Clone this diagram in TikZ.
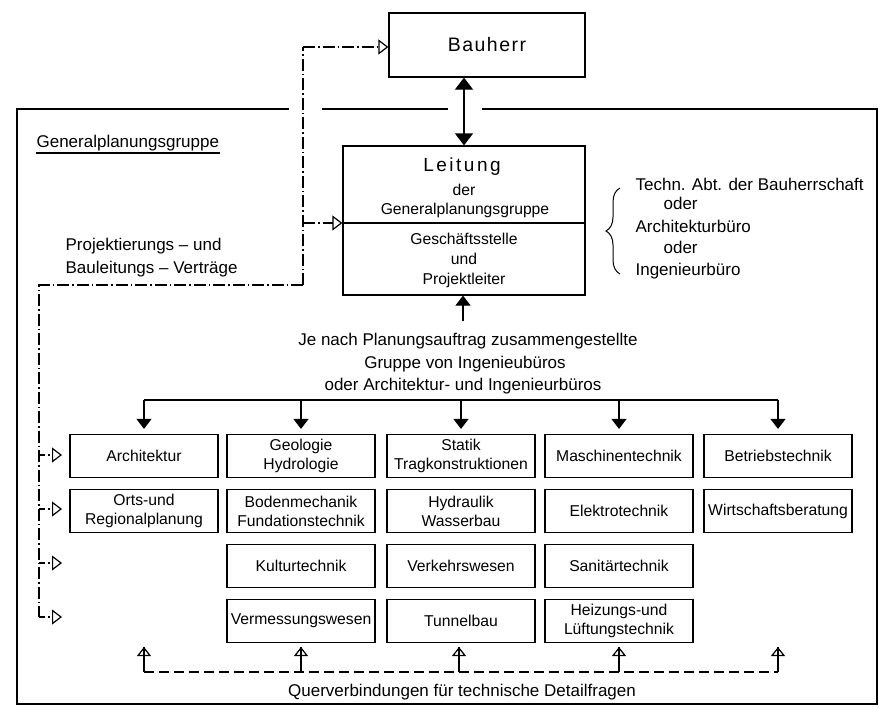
\documentclass[tikz,border=0pt]{standalone}
\usepackage{fontspec}
\setmainfont{Liberation Sans}
\usetikzlibrary{arrows.meta,decorations.pathreplacing}
\begin{document}
\begin{tikzpicture}[x=1pt,y=-1pt,line width=1.2pt,
  box/.style={draw,minimum width=148pt,minimum height=43pt,align=center,inner sep=0pt,font=\fontsize{15.7}{19}\selectfont},
  lbl/.style={inner sep=0pt,font=\fontsize{17}{20}\selectfont},
  sml/.style={inner sep=0pt,font=\fontsize{15.7}{19}\selectfont},
  dashdot/.style={dash pattern=on 12pt off 3pt on 1.5pt off 3pt},
  shortdd/.style={dash pattern=on 6pt off 3pt on 1.5pt off 2pt},
  otip/.style={-{Triangle[open,length=10pt,width=15pt]}},
  ftip/.style={-{Triangle[length=10pt,width=15pt]}},
  ftipb/.style={{Triangle[length=12pt,width=18pt]}-{Triangle[length=12pt,width=18pt]}},
  utip/.style={-{Triangle[open,length=9pt,width=14pt]}},
  qdash/.style={dash pattern=on 10pt off 5pt},
]
\fill[white] (0,0) rectangle (880,707);
\useasboundingbox (0,0) rectangle (880,707);

% frame of the Generalplanungsgruppe
\draw (289,109) -- (17,109) -- (17,704) -- (877,704) -- (877,109) -- (482,109);
\draw (322,109) -- (448,109);

% Bauherr
\node[draw,minimum width=196pt,minimum height=64pt,inner sep=0pt,font=\fontsize{19.5}{22}\selectfont] (bauherr) at (487,45)
  {B\kern1.5pt a\kern1.5pt u\kern1.5pt h\kern1.5pt e\kern1.5pt r\kern1.5pt r};

% Leitung
\node[draw,minimum width=242pt,minimum height=149pt,inner sep=0pt] (leit) at (464,220.5) {};
\coordinate (dv) at (0,223);
\draw (leit.west |- dv) -- (leit.east |- dv);
\node[inner sep=0pt,anchor=base,font=\fontsize{19}{22}\selectfont] (leitt) at (462,171)
  {L\kern2.5pt e\kern2.5pt i\kern2.5pt t\kern2.5pt u\kern2.5pt n\kern2.5pt g};
\node[sml,anchor=base] (der) at (464,195) {der};
\node[sml,anchor=base] (gpg) at (465,214) {Generalplanungsgruppe};
\node[sml,anchor=base] (gs) at (464,244) {Geschäftsstelle};
\node[sml,anchor=base] (und) at (464,264) {und};
\node[sml,anchor=base] (pl) at (464,284) {Projektleiter};

\draw[ftipb] (leit.north |- bauherr.south) -- (leit.north);

% brace and alternatives
\coordinate (bb) at (620,274);
\coordinate (bt) at (620,188);
\draw[line width=1pt,decorate,decoration={brace,amplitude=14pt}] (bb) -- (bt);
\node[lbl,anchor=base west] (al1) at (635,190) {Techn. Abt. der Bauherrschaft};
\node[lbl,anchor=base west] (al2) at (663,209) {oder};
\node[lbl,anchor=base west] (al3) at (635,232) {Architekturbüro};
\node[lbl,anchor=base west] (al4) at (663,253) {oder};
\node[lbl,anchor=base west] (al5) at (635,275) {Ingenieurbüro};

% left texts
\node[lbl,anchor=base west] (gp) at (36,147) {Generalplanungsgruppe};
\draw ([yshift=-6pt]gp.base west) -- ([yshift=-6pt]gp.base east);
\node[lbl,anchor=base west] (pj1) at (65,250) {Projektierungs – und};
\node[lbl,anchor=base west] (pj2) at (65,273) {Bauleitungs – Verträge};

% contracts (dash-dot)
\coordinate (dtop) at (303,47);
\coordinate (dmid) at (303,223);
\coordinate (dbot) at (303,285);
\coordinate (dleft) at (39,285);
\foreach \i/\y in {1/455,2/509,3/563,4/617}{
  \coordinate (l\i) at (39,\y);
  \coordinate (lt\i) at (62,\y);
}
\draw[dashdot] (dbot) -- (dtop);
\draw[dashdot,otip] (dtop) -- (dtop -| bauherr.west);
\draw[dashdot,otip] (dmid) -- (dmid -| leit.west);
\draw[dashdot] (dbot) -- (dleft) -- (l4);
\foreach \i in {1,2,3,4}{
  \draw[shortdd,otip] (l\i) -- (lt\i);
}

% middle texts
\coordinate (ja) at (463,321);
\draw[ftip] (ja) -- (ja |- leit.south);
\node[lbl,anchor=base] (je1) at (468,345) {Je nach Planungsauftrag zusammengestellte};
\node[lbl,anchor=base] (je2) at (465,368) {Gruppe von Ingenieubüros};
\node[lbl,anchor=base] (je3) at (463,390) {oder Architektur- und Ingenieurbüros};

% boxes
\node[box] (arch)   at (144,456) {Architektur};
\node[box] (geo)    at (301,456) {Geologie\\Hydrologie};
\node[box] (statik) at (461,456) {Statik\\Tragkonstruktionen};
\node[box] (masch)  at (619,456) {Maschinentechnik};
\node[box] (betr)   at (778,456) {Betriebstechnik};
\node[box] (orts)   at (144,511) {Orts-und\\Regionalplanung};
\node[box] (boden)  at (301,511) {Bodenmechanik\\Fundationstechnik};
\node[box] (hydr)   at (461,511) {Hydraulik\\Wasserbau};
\node[box] (elek)   at (619,511) {Elektrotechnik};
\node[box] (wirt)   at (778,511) {Wirtschaftsberatung};
\node[box] (kult)   at (301,566) {Kulturtechnik};
\node[box] (verk)   at (461,566) {Verkehrswesen};
\node[box] (sani)   at (619,566) {Sanitärtechnik};
\node[box] (verm)   at (301,621) {Vermessungswesen};
\node[box] (tunnel) at (461,621) {Tunnelbau};
\node[box] (heiz)   at (619,621) {Heizungs-und\\Lüftungstechnik};

% distribution
\coordinate (dl) at (144,400);
\coordinate (dr) at (778,400);
\draw (dl) -- (dr);
\foreach \b in {arch,geo,statik,masch,betr}{
  \draw[ftip,shorten >=5pt] (\b.north |- dl) -- (\b.north);
}

% cross connections
\foreach \i/\x in {1/144,2/301,3/459,4/619,5/778}{
  \coordinate (q\i) at (\x,672);
  \coordinate (u\i) at (\x,647);
  \draw (q\i) -- (u\i);
  \draw[utip] (q\i) -- (u\i);
}
\draw[qdash] (q1) -- (q5);
\node[lbl,anchor=base] (qv) at (462,696) {Querverbindungen für technische Detailfragen};
\end{tikzpicture}
\end{document}
